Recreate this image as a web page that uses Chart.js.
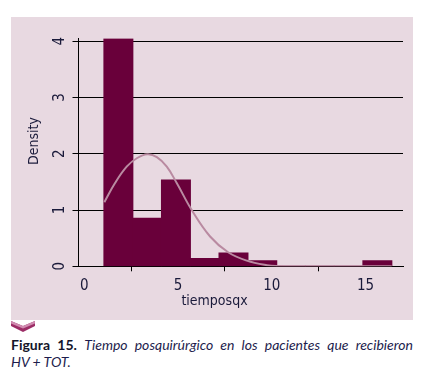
<!DOCTYPE html>
<html>
<head>
<meta charset="utf-8">
<script src="https://cdn.jsdelivr.net/npm/chart.js@4"></script>
<style>
    body { margin: 0; width: 426px; height: 378px; background: #ffffff; position: relative; overflow: hidden; }
    #panel { position: absolute; left: 11px; top: 17px; width: 402px; height: 303px; background: #e8d9e1; }
    #chev { position: absolute; left: 11px; top: 321px; }
    .cap { position: absolute; left: 11px; width: 402px; font-family: Lato, "Open Sans", sans-serif; font-size: 14px; line-height: 17px; color: #1d1d4d; }
    #cap1 { top: 336px; text-align: justify; text-align-last: justify; }
    #cap2 { top: 353px; }
    .cap b { color: #15152a; }
</style>
</head>
<body>
<div id="panel"><canvas id="hist" width="402" height="303"></canvas></div>
<svg id="chev" width="24" height="12" viewBox="0 0 24 12">
    <polygon points="0,0 12,5 24,0 24,5 12,11 0,5" fill="#9c2d66"/>
    <polygon points="0,0 12,5 24,0 24,2.5 12,7.5 0,2.5" fill="#d08bb0"/>
</svg>
<div class="cap" id="cap1"><b>Figura 15.</b> <i>Tiempo posquirúrgico en los pacientes que recibieron</i></div>
<div class="cap" id="cap2"><i>HV + TOT.</i></div>

<script>
// histogram bins (tiemposqx) and density per bin
const binEdges = [1.05, 2.585, 4.12, 5.655, 7.19, 8.725, 10.26, 11.795, 13.33, 14.865, 16.40];
const density = [4.04, 0.85, 1.53, 0.135, 0.235, 0.095, 0, 0, 0, 0.095];

// normal density overlay
const curveX = [1.07, 1.64, 2.26, 2.80, 3.36, 3.87, 4.40, 4.93, 5.73, 6.71, 7.67, 8.67, 9.74, 10.36, 11.5, 13, 14.5, 16.4];
const curveY = [1.14, 1.48, 1.77, 1.92, 1.99, 1.94, 1.77, 1.48, 1.00, 0.53, 0.25, 0.10, 0.02, 0.005, 0, 0, 0, 0];

const xTicks = [0, 5, 10, 15];
const yTicks = [0, 1, 2, 3, 4];

const TEXT = '#1a1a3a';
const BAR = '#69003a';
const FONT = '"DejaVu Sans Condensed", "Liberation Sans Narrow", sans-serif';

const bars = density.map((d, i) => ({ x: (binEdges[i] + binEdges[i + 1]) / 2, y: d }));
const curve = curveX.map((x, i) => ({ x: x, y: curveY[i] }));

// y tick labels and axis titles drawn rotated, Stata style
const axisText = {
    id: 'axisText',
    afterDraw(chart) {
        const ctx = chart.ctx;
        const ys = chart.scales.y;
        const area = chart.chartArea;
        ctx.save();
        ctx.fillStyle = TEXT;
        ctx.textAlign = 'center';
        ctx.textBaseline = 'middle';
        ctx.font = '15px ' + FONT;
        yTicks.forEach(v => {
            ctx.save();
            ctx.translate(area.left - 18.5, ys.getPixelForValue(v));
            ctx.rotate(-Math.PI / 2);
            ctx.fillText(String(v), 0, 0);
            ctx.restore();
        });
        ctx.font = '14px ' + FONT;
        ctx.save();
        ctx.translate(23, 124);
        ctx.rotate(-Math.PI / 2);
        ctx.fillText('Density', 0, 0);
        ctx.restore();
        ctx.fillText('tiemposqx', 203.5, 284);
        ctx.restore();
    }
};

new Chart(document.getElementById('hist'), {
    type: 'bar',
    data: {
        datasets: [
            {
                type: 'line',
                data: curve,
                borderColor: '#b98aa1',
                borderWidth: 2,
                pointRadius: 0,
                tension: 0.4,
                fill: false,
                order: 0
            },
            {
                type: 'bar',
                data: bars,
                backgroundColor: BAR,
                borderColor: BAR,
                borderWidth: 0,
                inflateAmount: 0.6,
                barPercentage: 1,
                categoryPercentage: 1,
                order: 1
            }
        ]
    },
    options: {
        responsive: false,
        animation: false,
        devicePixelRatio: 1,
        layout: { padding: { top: 21.4, right: 10, left: 0, bottom: 0 } },
        plugins: { legend: { display: false }, tooltip: { enabled: false } },
        scales: {
            x: {
                type: 'linear',
                min: -0.31,
                max: 17,
                offset: false,
                afterBuildTicks: s => { s.ticks = xTicks.map(v => ({ value: v })); },
                afterFit: s => { s.height = 53.7; },
                grid: { drawOnChartArea: false, drawTicks: true, tickLength: 5, color: '#000000' },
                border: { color: '#000000', width: 1 },
                ticks: { color: TEXT, font: { family: FONT, size: 15 }, padding: 6, maxRotation: 0 }
            },
            y: {
                min: 0,
                max: 4.05,
                afterBuildTicks: s => { s.ticks = yTicks.map(v => ({ value: v })); },
                afterFit: s => { s.width = 67.5; },
                grid: { color: '#000000', lineWidth: 1, drawTicks: true, tickLength: 6 },
                border: { color: '#000000', width: 1 },
                ticks: { display: false }
            }
        }
    },
    plugins: [axisText]
});
</script>
</body>
</html>
